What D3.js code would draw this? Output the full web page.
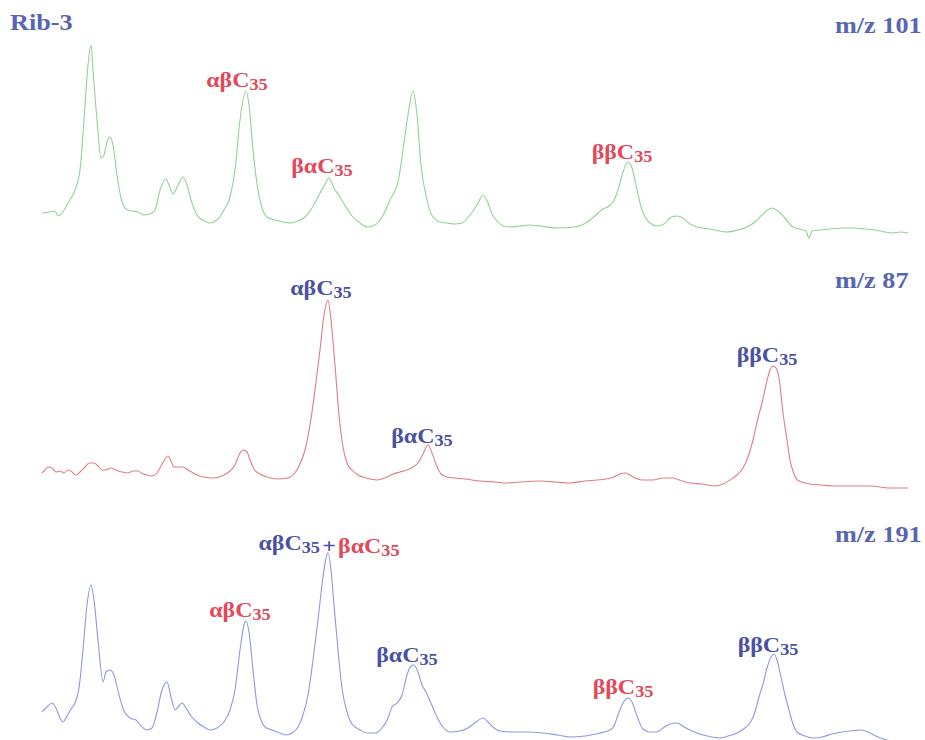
<!DOCTYPE html>
<html>
<head>
<meta charset="utf-8">
<script src="https://cdn.jsdelivr.net/npm/d3@7"></script>
<style>
  body { margin: 0; background: #fff; }
  svg { display: block; }
  .lbl { font-family: "Liberation Serif", "Times New Roman", serif; font-size: 21px; font-weight: bold; }
  .ttl { font-family: "Liberation Serif", "Times New Roman", serif; font-size: 23px; font-weight: bold; fill: #5866b2; }
</style>
</head>
<body>
<div id="chart"></div>
<script>
// scan number vs relative intensity
var mz101 = [[2,32],[10,33],[15,34],[18,29],[22,32],[28,42],[35,55],[40,75],[44,125],[48,180],[51,200],[53,175],[57,125],[61,87],[64,90],[67,103],[70,108],[73,100],[77,70],[81,47],[86,36],[92,34],[98,33],[103,30],[110,31],[115,35],[120,55],[126,66],[129,60],[133,51],[138,60],[143,68],[147,60],[151,45],[157,30],[163,25],[170,22],[177,25],[184,35],[190,48],[195,75],[200,125],[206,154],[209,140],[213,95],[218,55],[222,37],[227,28],[235,25],[243,23],[250,22],[258,24],[265,28],[272,37],[278,48],[284,59],[289,67],[294,57],[300,48],[306,38],[312,29],[320,22],[328,18],[335,20],[342,28],[350,45],[358,63],[363,95],[368,130],[373,154],[377,130],[381,80],[387,45],[393,28],[400,23],[407,22],[415,21],[422,22],[430,30],[437,40],[443,50],[448,42],[452,31],[457,24],[463,19],[470,18],[480,19],[490,20],[500,19],[517,17],[535,18],[544,21],[550,25],[557,31],[563,36],[569,39],[573,43],[578,55],[583,73],[588,83],[592,77],[596,60],[600,42],[604,30],[610,22],[617,19],[624,21],[630,27],[637,29],[643,27],[650,21],[657,18],[670,16],[687,13],[698,15],[707,18],[715,23],[722,30],[732,37],[738,34],[745,27],[753,18],[760,16],[766,14],[769,7],[772,14],[780,15],[790,16],[805,17],[815,17],[825,16],[835,15],[845,13],[853,12],[860,13],[868,12]];

var mz87 = [[2,22],[5,25],[8,28],[12,27],[16,23],[20,24],[24,22],[28,25],[32,23],[36,20],[40,23],[45,28],[49,32],[54,32],[58,29],[62,25],[66,25],[71,27],[76,25],[82,23],[88,22],[93,24],[98,24],[103,21],[108,20],[112,19],[117,22],[121,29],[125,36],[128,39],[131,34],[134,28],[138,28],[143,28],[148,25],[155,21],[163,18],[173,17],[182,19],[190,24],[195,30],[199,40],[203,45],[207,43],[210,35],[214,26],[220,21],[227,18],[237,16],[248,17],[254,21],[259,29],[265,45],[270,70],[275,105],[280,145],[284,180],[288,195],[291,175],[295,130],[299,80],[303,48],[307,32],[312,25],[318,20],[326,17],[337,15],[345,17],[353,21],[360,23],[367,25],[373,28],[378,32],[382,39],[388,50],[392,42],[396,31],[401,21],[407,18],[415,17],[425,16],[440,14],[455,13],[467,12],[480,13],[500,14],[515,13],[530,12],[545,14],[557,15],[566,16],[574,18],[580,21],[585,22],[590,20],[595,17],[602,15],[613,15],[623,17],[633,17],[642,14],[650,12],[662,11],[675,9],[683,11],[690,15],[697,20],[703,27],[708,38],[713,55],[718,77],[722,92],[726,110],[730,125],[733,129],[736,127],[739,117],[743,82],[747,55],[750,35],[754,21],[759,14],[770,11],[782,10],[793,9],[810,9],[830,9],[850,7],[868,7]];

var mz191 = [[2,33],[7,38],[12,42],[16,37],[20,27],[23,23],[27,29],[31,36],[35,42],[39,57],[43,95],[47,140],[51,160],[54,145],[58,105],[63,63],[66,73],[70,75],[74,70],[79,50],[84,34],[90,27],[96,25],[101,19],[107,15],[112,17],[117,33],[122,55],[127,63],[131,48],[135,35],[138,38],[142,42],[146,37],[151,29],[158,22],[164,18],[170,15],[177,17],[184,23],[190,35],[195,55],[200,95],[204,120],[206,124],[209,113],[213,75],[217,40],[221,25],[225,18],[232,15],[240,12],[246,10],[252,12],[258,18],[263,30],[268,50],[273,85],[278,125],[282,160],[286,187],[288,192],[291,175],[294,140],[298,95],[302,57],[307,33],[312,21],[320,15],[327,12],[335,12],[342,17],[348,27],[352,38],[357,42],[362,50],[367,70],[371,79],[374,80],[378,73],[382,60],[386,53],[391,42],[397,28],[403,18],[410,13],[420,14],[428,17],[436,23],[443,27],[448,23],[454,17],[460,14],[472,13],[487,13],[503,12],[517,10],[530,8],[545,9],[560,12],[570,15],[574,19],[578,30],[583,42],[588,47],[592,43],[597,29],[603,16],[610,13],[617,13],[623,17],[630,21],[637,22],[644,18],[652,14],[663,10],[672,8],[680,7],[688,9],[697,12],[705,17],[710,22],[715,33],[719,48],[723,61],[727,77],[731,88],[734,91],[737,85],[741,68],[745,50],[749,35],[753,21],[757,13],[765,9],[773,7],[782,8],[792,11],[802,13],[810,14],[822,15],[830,12],[838,8],[847,5],[860,1],[868,-1]];

var ionNames = ["m/z 101", "m/z 87", "m/z 191"];
var lineColors = ["#93d293", "#e27c84", "#8d99e2"];

// peak labels: trace, scan, level, parts [text, sub, colour key]
var peakLabels = [
    {t: 0, scan: 197, level: 158, parts: [["αβC", "35", "red"]]},
    {t: 0, scan: 282, level: 72,  parts: [["βαC", "35", "red"]]},
    {t: 0, scan: 582, level: 86,  parts: [["ββC", "35", "red"]]},
    {t: 1, scan: 281, level: 200, parts: [["αβC", "35", "blue"]]},
    {t: 1, scan: 382, level: 52,  parts: [["βαC", "35", "blue"]]},
    {t: 1, scan: 727, level: 133, parts: [["ββC", "35", "blue"]]},
    {t: 2, scan: 289, level: 195, parts: [["αβC", "35", "blue"], ["+", "", "blue"], ["βαC", "35", "red"]]},
    {t: 2, scan: 200, level: 128, parts: [["αβC", "35", "red"]]},
    {t: 2, scan: 367, level: 83,  parts: [["βαC", "35", "blue"]]},
    {t: 2, scan: 583, level: 51,  parts: [["ββC", "35", "red"]]},
    {t: 2, scan: 728, level: 93,  parts: [["ββC", "35", "blue"]]}
];
var labelColors = {red: "#e2495a", blue: "#4b52a3"};

var width = 925, height = 740;
var panelBottoms = [245, 495, 745];
var stretch = 1.14; // the figure's lettering is a little wider than the font

var svg = d3.select("#chart").append("svg")
    .attr("width", width)
    .attr("height", height);

var x = d3.scaleLinear().domain([0, 870]).range([40, 910]);

var traces = [mz101, mz87, mz191];

function addTitle(tx, ty, str) {
    svg.append("text")
        .attr("class", "ttl")
        .attr("transform", "translate(" + tx + "," + ty + ") scale(" + stretch + ",1)")
        .text(str);
}

traces.forEach(function(data, i) {
    var y = d3.scaleLinear().domain([0, 200]).range([panelBottoms[i], panelBottoms[i] - 200]);
    var line = d3.line()
        .x(function(d) { return x(d[0]); })
        .y(function(d) { return y(d[1]); })
        .curve(d3.curveMonotoneX);

    svg.append("path")
        .datum(data)
        .attr("fill", "none")
        .attr("stroke", lineColors[i])
        .attr("stroke-width", 1.1)
        .attr("d", line);

    addTitle(835, [33, 288, 542][i], ionNames[i]);

    peakLabels.filter(function(l) { return l.t === i; }).forEach(function(l) {
        var txt = svg.append("text")
            .attr("class", "lbl")
            .attr("transform", "translate(" + x(l.scan) + "," + y(l.level) + ") scale(" + stretch + ",1)")
            .attr("text-anchor", "middle");
        l.parts.forEach(function(p, k) {
            txt.append("tspan")
                .attr("fill", labelColors[p[2]])
                .attr("dx", k > 0 ? 2 : 0)
                .text(p[0]);
            if (p[1] !== "") {
                txt.append("tspan")
                    .attr("fill", labelColors[p[2]])
                    .attr("font-size", "16px")
                    .attr("dy", 3)
                    .text(p[1]);
                txt.append("tspan").attr("dy", -3).text("");
            }
        });
    });
});

addTitle(10, 30, "Rib-3");
</script>
</body>
</html>
